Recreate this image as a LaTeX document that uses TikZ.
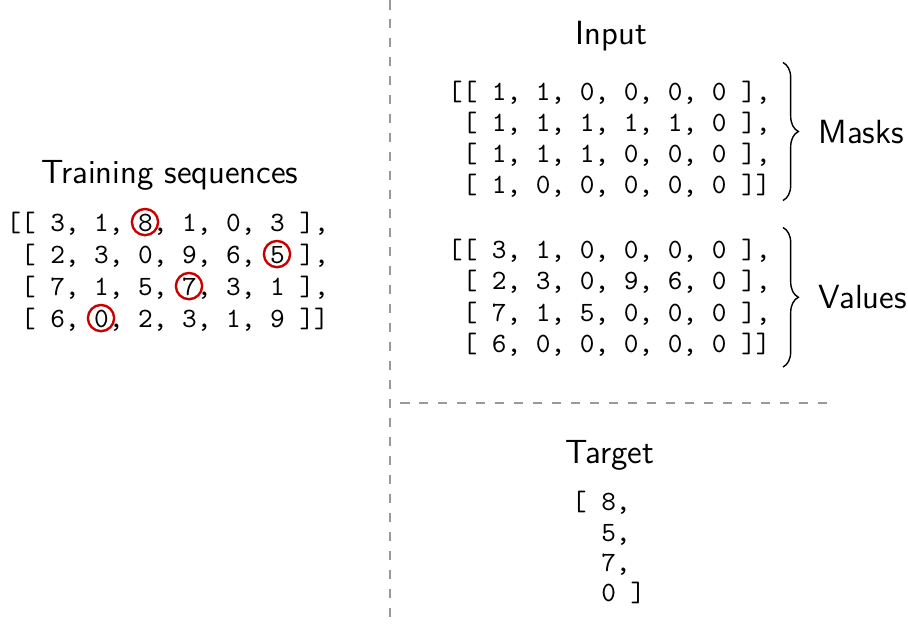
\documentclass[tikz,border=0pt]{standalone}
\usepackage{tikz}
\usetikzlibrary{calc}
\usetikzlibrary{decorations.pathreplacing}

\newcommand{\chw}{5.25pt}
\tikzset{
  seq/.style={font=\ttfamily, inner sep=0pt, anchor=base west},
  head/.style={font=\sffamily\large, inner sep=0pt, anchor=base},
  lbl/.style={font=\sffamily\large, inner sep=0pt, anchor=base west},
  ring/.style={draw=red!78!black, line width=0.85pt},
  sep/.style={black!40, line width=0.5pt, dash pattern=on 3.4pt off 3.4pt},
  curly/.style={decorate, decoration={brace, amplitude=5.5pt}, line width=0.5pt}
}

\begin{document}
\begin{tikzpicture}[x=0.358pt, y=-0.358pt]
\useasboundingbox (0,0) rectangle (908,624);
\draw[sep] (390,0) -- (390,624);
\draw[sep] (400,403) -- (835,403);
\node[head] (train) at (170,183) {Training sequences};
\node[seq] (tr1) at (5.7,231) {[[ 3, 1, 8, 1, 0, 3 ],};
\node[seq] (tr2) at (5.7,263) {\ [ 2, 3, 0, 9, 6, 5 ],};
\node[seq] (tr3) at (5.7,295) {\ [ 7, 1, 5, 7, 3, 1 ],};
\node[seq] (tr4) at (5.7,327) {\ [ 6, 0, 2, 3, 1, 9 ]]};
\draw[ring] ($(tr1.base west)+(9.5*\chw,3.2pt)$) circle (4.7pt);
\draw[ring] ($(tr2.base west)+(18.5*\chw,3.2pt)$) circle (4.7pt);
\draw[ring] ($(tr3.base west)+(12.5*\chw,3.2pt)$) circle (4.7pt);
\draw[ring] ($(tr4.base west)+(6.5*\chw,3.2pt)$) circle (4.7pt);
\node[head] (input) at (611.5,44) {Input};
\node[seq] (ms1) at (447.4,100) {[[ 1, 1, 0, 0, 0, 0 ],};
\node[seq] (ms2) at (447.4,131) {\ [ 1, 1, 1, 1, 1, 0 ],};
\node[seq] (ms3) at (447.4,162) {\ [ 1, 1, 1, 0, 0, 0 ],};
\node[seq] (ms4) at (447.4,193) {\ [ 1, 0, 0, 0, 0, 0 ]]};
\node[seq] (vl1) at (447.4,258) {[[ 3, 1, 0, 0, 0, 0 ],};
\node[seq] (vl2) at (447.4,289.5) {\ [ 2, 3, 0, 9, 6, 0 ],};
\node[seq] (vl3) at (447.4,321) {\ [ 7, 1, 5, 0, 0, 0 ],};
\node[seq] (vl4) at (447.4,352.5) {\ [ 6, 0, 0, 0, 0, 0 ]]};
\coordinate (mtop) at (783,62.5);
\coordinate (mbot) at (783,200.5);
\coordinate (vtop) at (783,227.5);
\coordinate (vbot) at (783,367);
\draw[curly] (mtop) -- (mbot);
\draw[curly] (vtop) -- (vbot);
\node[lbl] (masks) at (818,143.5) {Masks};
\node[lbl] (values) at (818,308.5) {Values};
\node[head] (target) at (610,463) {Target};
\node[seq] (tg1) at (571.4,510.5) {[ 8,};
\node[seq] (tg2) at (571.4,541) {\ \ 5,};
\node[seq] (tg3) at (571.4,571) {\ \ 7,};
\node[seq] (tg4) at (571.4,601.5) {\ \ 0 ]};
\end{tikzpicture}
\end{document}
